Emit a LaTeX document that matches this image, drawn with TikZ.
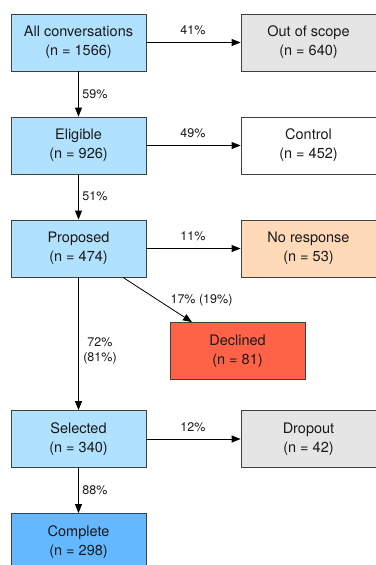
\documentclass[tikz,border=0pt]{standalone}
\usepackage{fontspec}
\setmainfont{TeX Gyre Heros}
\usetikzlibrary{arrows.meta}
\definecolor{lightsky}{HTML}{B0E2FF}
\definecolor{greybox}{HTML}{E5E5E5}
\definecolor{peach}{HTML}{FFDAB9}
\definecolor{tomato}{HTML}{FF6347}
\definecolor{steelsky}{HTML}{63B8FF}
\tikzset{
         box/.style=
          {
           draw=black!75,
           line width=0.8pt,
           minimum width=135pt,
           minimum height=57pt,
           align=center,
           text=black!90,
           font=\fontsize{14.5}{19}\selectfont
          },
         flow/.style={-{Triangle[length=9pt,width=7pt]},line width=0.8pt},
         pct/.style={font=\fontsize{12.5}{15}\selectfont,align=center,text=black!90}
        }
\begin{document}
\begin{tikzpicture}[x=1pt,y=-1pt]
\useasboundingbox (0,0) rectangle (375,565);
\node[box,fill=lightsky] (allconv) at (78.5,42.5) {All conversations\\(n = 1566)};
\node[box,fill=greybox] (scope) at (308.5,42.5) {Out of scope\\(n = 640)};
\node[box,fill=lightsky] (eligible) at (78.5,145.5) {Eligible\\(n = 926)};
\node[box,fill=white] (control) at (308.5,145.5) {Control\\(n = 452)};
\node[box,fill=lightsky] (proposed) at (78.5,248.5) {Proposed\\(n = 474)};
\node[box,fill=peach] (noresp) at (308.5,248.5) {No response\\(n = 53)};
\node[box,fill=tomato] (declined) at (237.5,351) {Declined\\(n = 81)};
\node[box,fill=lightsky] (selected) at (78.5,439) {Selected\\(n = 340)};
\node[box,fill=greybox] (dropout) at (308.5,439) {Dropout\\(n = 42)};
\node[box,fill=steelsky] (complete) at (78.5,542) {Complete\\(n = 298)};

%edges
\draw[flow] (allconv) -- (scope);
\draw[flow] (allconv) -- (eligible);
\draw[flow] (eligible) -- (control);
\draw[flow] (eligible) -- (proposed);
\draw[flow] (proposed) -- (noresp);
\draw[flow] ([xshift=44.5pt]proposed.south) -- ([xshift=-45.5pt]declined.north);
\draw[flow] (proposed) -- (selected);
\draw[flow] (selected) -- (dropout);
\draw[flow] (selected) -- (complete);

%percentages
\node[pct] (p41) at (193,30) {41\%};
\node[pct] (p59) at (95,94) {59\%};
\node[pct] (p49) at (193,133) {49\%};
\node[pct] (p51) at (95,196) {51\%};
\node[pct] (p11) at (193,236) {11\%};
\node[pct] (p17) at (201.5,300) {17\% (19\%)};
\node[pct] (p72) at (100,350.5) {72\%\\(81\%)};
\node[pct] (p12) at (193,427) {12\%};
\node[pct] (p88) at (95,490) {88\%};
\end{tikzpicture}
\end{document}
